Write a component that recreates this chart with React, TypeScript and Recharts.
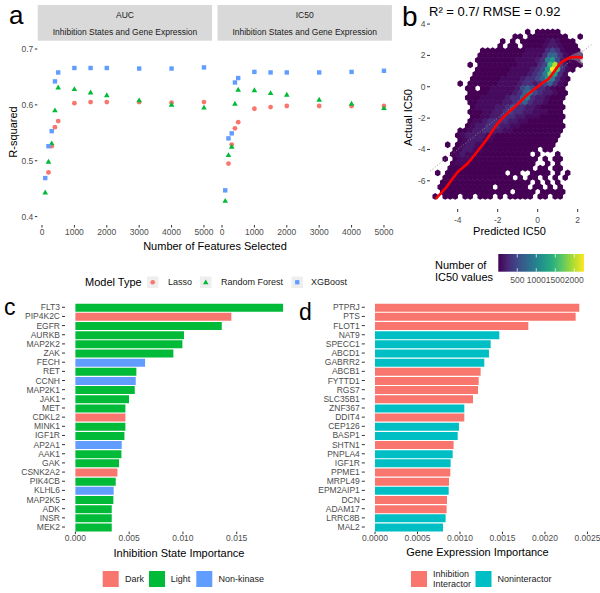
import React from "react";
import {
  ScatterChart,
  Scatter,
  XAxis,
  YAxis,
  BarChart,
  Bar,
  Cell,
  ComposedChart,
  Line,
  Area,
  ReferenceLine,
} from "recharts";

const FONT = "'Liberation Sans', Arial, sans-serif";
const TICK_GREY = "#4d4d4d";
const TICK_LINE = "#333333";

// ---- panel a: R-squared vs number of features ----
const FEATURES = [100, 200, 300, 400, 500, 1000, 1500, 2000, 3000, 4000, 5000];
const AUC_LASSO = [null, 0.479, 0.526, 0.56, 0.571, 0.603, 0.605, 0.605, 0.605, 0.604, 0.605];
const AUC_RF = [0.443, 0.498, 0.531, 0.59, 0.631, 0.628, 0.622, 0.617, 0.608, 0.6, 0.595];
const AUC_XGB = [0.469, 0.526, 0.553, 0.642, 0.658, 0.666, 0.666, 0.666, 0.665, 0.665, 0.667];
const IC50_LASSO = [null, 0.495, 0.529, 0.558, 0.569, 0.593, 0.596, 0.598, 0.598, 0.598, 0.598];
const IC50_RF = [0.428, 0.51, 0.525, 0.602, 0.627, 0.626, 0.621, 0.618, 0.609, 0.602, 0.594];
const IC50_XGB = [0.447, 0.54, 0.549, 0.64, 0.648, 0.659, 0.658, 0.658, 0.658, 0.659, 0.661];
const A_X_TICKS = [0, 1000, 2000, 3000, 4000, 5000];
const A_Y_TICKS = [0.4, 0.5, 0.6, 0.7];
const MODEL_COLORS = { Lasso: "#F8766D", "Random Forest": "#00BA38", XGBoost: "#619CFF" };

// ---- panel b: hexbin of predicted vs actual IC50 ----
// each char is one hex cell: "." empty, 0..9/a/b = count level (dark -> bright)
const HEX_ROWS = [
  "...................0.00000.....",
  "................00.00000000..0.",
  "..............0.0.00000121000..",
  ".............0.00.00001221000..",
  "..........00000000011113431000.",
  ".........000000000111135531000.",
  ".........000000001111236742000.",
  ".......0.000000001111348a42000.",
  ".........000000011112347b8310..",
  "........0000000111123469731....",
  "........00000011112334576310...",
  ".....0.00000011112332345310....",
  ".......00.00111112454332100....",
  ".......00001111123564322100....",
  ".......00011111233563221000....",
  ".......0011111223453221000.....",
  "........0111122343322100000....",
  ".......0001122343322111000.....",
  "........0011223332211100000....",
  ".......0112333322110000000.....",
  ".......01223332211000000000....",
  ".....001223322110000000000.....",
  ".....012222110000000000000.....",
  ".....01222110000000000000......",
  "...0.01221100000000000000......",
  "....01221100000000000.00.......",
  "....0121100000000000.0...0.....",
  "..0.01110000000000000.0.00.....",
  "....01100000000000000..0.0.....",
  "...00000000000000000.00.00.....",
  ".0.000000000000.00..0000.0.0...",
  "..00000000000000.0.00.0.0.0....",
  "..000000000000000000.0.0.0.....",
  ".00000000000.000000.00.0.0.....",
  "..00000000000000.0000.00000....",
  "0.000.00.000.0.00000.00.00.....",
];
const HEX_X_LEFT = -5.25;
const HEX_Y_TOP = 3.5;
const HEX_DX = 0.25;
const HEX_DY = 0.3;
const HEX_LEVEL_COLORS: Record<string, string> = {
  "0": "#440154",
  "1": "#460b5e",
  "2": "#471a6c",
  "3": "#472d7b",
  "4": "#3f4788",
  "5": "#33638d",
  "6": "#287d8e",
  "7": "#1f988b",
  "8": "#35b779",
  "9": "#6ece58",
  a: "#b5de2b",
  b: "#fde725",
};
const SMOOTH_X = [-5.1, -4.55, -4.0, -3.5, -3.0, -2.5, -2.0, -1.5, -1.0, -0.5, 0.0, 0.3, 0.55, 0.85, 1.1, 1.4, 1.7, 2.0, 2.25];
const SMOOTH_Y = [-7.15, -6.38, -5.44, -4.88, -4.1, -3.27, -2.34, -1.68, -1.11, -0.5, 0.0, 0.3, 0.52, 1.02, 1.45, 1.73, 1.88, 1.9, 1.83];
const SMOOTH_LO = [null, null, null, null, null, null, null, null, null, null, null, null, null, null, null, 1.68, 1.74, 1.6, 1.35];
const SMOOTH_HI = [null, null, null, null, null, null, null, null, null, null, null, null, null, null, null, 1.78, 2.02, 2.2, 2.35];
const B_X_TICKS = [-4, -2, 0, 2];
const B_Y_TICKS = [-6, -4, -2, 0, 2, 4];
const COLORBAR_TICKS = [500, 1000, 1500, 2000];
const COLORBAR_RANGE = [1, 2255];
const VIRIDIS = ["#440154", "#472d7b", "#3b528b", "#2c728e", "#21918c", "#28ae80", "#5ec962", "#addc30", "#fde725"];

// ---- panel c: inhibition state importance ----
const C_GENES = ["FLT3", "PIP4K2C", "EGFR", "AURKB", "MAP2K2", "ZAK", "FECH", "RET", "CCNH", "MAP2K1", "JAK1", "MET", "CDKL2", "MINK1", "IGF1R", "AP2A1", "AAK1", "GAK", "CSNK2A2", "PIK4CB", "KLHL6", "MAP2K5", "ADK", "INSR", "MEK2"];
const C_VALUES = [0.01931, 0.0145, 0.01361, 0.0101, 0.00995, 0.00911, 0.00648, 0.00567, 0.00561, 0.00552, 0.00499, 0.00465, 0.00465, 0.00465, 0.00456, 0.00431, 0.00428, 0.00406, 0.00391, 0.00375, 0.00356, 0.00353, 0.00338, 0.00338, 0.00338];
const C_CLASS = ["Light", "Dark", "Light", "Light", "Light", "Light", "Non-kinase", "Light", "Non-kinase", "Light", "Light", "Light", "Dark", "Light", "Light", "Non-kinase", "Light", "Light", "Dark", "Light", "Non-kinase", "Light", "Light", "Light", "Light"];
const C_COLORS: Record<string, string> = { Dark: "#F8766D", Light: "#00BA38", "Non-kinase": "#619CFF" };
const C_TICKS = [0, 0.005, 0.01, 0.015];

// ---- panel d: gene expression importance ----
const D_GENES = ["PTPRJ", "PTS", "FLOT1", "NAT9", "SPECC1", "ABCD1", "GABRR2", "ABCB1", "FYTTD1", "RGS7", "SLC35B1", "ZNF367", "DDIT4", "CEP126", "BASP1", "SHTN1", "PNPLA4", "IGF1R", "PPME1", "MRPL49", "EPM2AIP1", "DCN", "ADAM17", "LRRC8B", "MAL2"];
const D_VALUES = [0.002404, 0.002361, 0.001804, 0.001463, 0.001361, 0.001341, 0.001286, 0.001243, 0.00122, 0.001212, 0.001153, 0.001051, 0.001051, 0.000988, 0.000973, 0.000925, 0.000914, 0.00089, 0.000886, 0.000871, 0.000867, 0.000847, 0.000843, 0.000831, 0.0008];
const D_CLASS = ["Inhibition Interactor", "Inhibition Interactor", "Inhibition Interactor", "Noninteractor", "Noninteractor", "Noninteractor", "Noninteractor", "Inhibition Interactor", "Inhibition Interactor", "Inhibition Interactor", "Inhibition Interactor", "Noninteractor", "Inhibition Interactor", "Noninteractor", "Noninteractor", "Inhibition Interactor", "Noninteractor", "Noninteractor", "Inhibition Interactor", "Inhibition Interactor", "Noninteractor", "Inhibition Interactor", "Inhibition Interactor", "Noninteractor", "Noninteractor"];
const D_COLORS: Record<string, string> = { "Inhibition Interactor": "#F8766D", Noninteractor: "#00BFC4" };
const D_TICKS = [0, 0.0005, 0.001, 0.0015, 0.002, 0.0025];

// ---- layout ----
const A_X_DOMAIN = [-145, 5245];
const A_Y_DOMAIN = [0.385, 0.7125];
const B_X_DOMAIN = [-5.385, 2.715];
const B_Y_DOMAIN = [-7.8, 4.26];
const B_PLOT_W = 162;
const B_PLOT_H = 189;
const B_MARGIN = { top: 20, right: 8, bottom: 6, left: 30 };
const C_DOMAIN = [-0.000966, 0.02027];
const D_DOMAIN = [-0.00012, 0.002524];

const tickStyle = { fontSize: 8.5, fill: TICK_GREY, fontFamily: FONT };

const circleShape = (fill: string) => (p: any) =>
  p.cx == null ? null : <circle cx={p.cx} cy={p.cy} r={2.4} fill={fill} />;
const triangleShape = (fill: string) => (p: any) =>
  p.cx == null ? null : (
    <polygon points={`${p.cx},${p.cy - 3} ${p.cx + 2.8},${p.cy + 1.9} ${p.cx - 2.8},${p.cy + 1.9}`} fill={fill} />
  );
const squareShape = (fill: string) => (p: any) =>
  p.cx == null ? null : <rect x={p.cx - 2.2} y={p.cy - 2.2} width={4.4} height={4.4} fill={fill} />;

function FacetScatter({ left, width, marginLeft, marginRight, showY, lasso, rf, xgb }: any) {
  const mk = (vals: (number | null)[]) =>
    FEATURES.map((f, i) => ({ x: f, y: vals[i] })).filter((d) => d.y != null);
  return (
    <div style={{ position: "absolute", left, top: 0 }}>
      <ScatterChart width={width} height={245} margin={{ top: 42, right: marginRight, bottom: 8, left: marginLeft }}>
        <XAxis
          type="number"
          dataKey="x"
          domain={A_X_DOMAIN}
          ticks={A_X_TICKS}
          allowDataOverflow
          interval={0}
          height={12}
          axisLine={false}
          tickLine={{ stroke: TICK_LINE }}
          tickSize={2.5}
          tickMargin={1.5}
          tick={tickStyle}
        />
        <YAxis
          type="number"
          dataKey="y"
          domain={A_Y_DOMAIN}
          ticks={A_Y_TICKS}
          allowDataOverflow
          hide={!showY}
          width={27}
          axisLine={false}
          tickLine={{ stroke: TICK_LINE }}
          tickSize={2.5}
          tickMargin={1.5}
          tick={tickStyle}
          tickFormatter={(v: number) => v.toFixed(1)}
        />
        <Scatter data={mk(lasso)} shape={circleShape(MODEL_COLORS.Lasso)} isAnimationActive={false} />
        <Scatter data={mk(rf)} shape={triangleShape(MODEL_COLORS["Random Forest"])} isAnimationActive={false} />
        <Scatter data={mk(xgb)} shape={squareShape(MODEL_COLORS.XGBoost)} isAnimationActive={false} />
      </ScatterChart>
    </div>
  );
}

const B_PX_PER_X = B_PLOT_W / (B_X_DOMAIN[1] - B_X_DOMAIN[0]);
const B_PX_PER_Y = B_PLOT_H / (B_Y_DOMAIN[1] - B_Y_DOMAIN[0]);
const HEX_HALF_W = (HEX_DX / 2) * B_PX_PER_X + 0.25;
const HEX_R = (HEX_DY / 1.5) * B_PX_PER_Y + 0.25;

function HexShape(props: any) {
  const { cx, cy, payload } = props;
  if (cx == null || cy == null) return null;
  const w = HEX_HALF_W;
  const r = HEX_R;
  const pts = [
    [0, -r],
    [w, -r / 2],
    [w, r / 2],
    [0, r],
    [-w, r / 2],
    [-w, -r / 2],
  ]
    .map(([dx, dy]) => `${cx + dx},${cy + dy}`)
    .join(" ");
  return <polygon points={pts} fill={HEX_LEVEL_COLORS[payload.level]} />;
}

function HexPanel() {
  const cells: { x: number; y: number; level: string }[] = [];
  HEX_ROWS.forEach((row, i) => {
    row.split("").forEach((ch, c) => {
      if (ch === ".") return;
      cells.push({
        x: HEX_X_LEFT + c * HEX_DX + (i % 2 ? HEX_DX / 2 : 0),
        y: HEX_Y_TOP - i * HEX_DY,
        level: ch,
      });
    });
  });
  const smooth = SMOOTH_X.map((x, i) => ({
    x,
    y: SMOOTH_Y[i],
    band: SMOOTH_LO[i] == null ? null : [SMOOTH_LO[i], SMOOTH_HI[i]],
  }));
  return (
    <>
      <div style={{ position: "absolute", left: 380, top: 0 }}>
        <ScatterChart width={220} height={230} margin={B_MARGIN}>
          <XAxis
            type="number"
            dataKey="x"
            domain={B_X_DOMAIN}
            ticks={B_X_TICKS}
            allowDataOverflow
            interval={0}
            height={15}
            axisLine={false}
            tickLine={{ stroke: TICK_LINE }}
            tickSize={3}
            tickMargin={5}
            tick={tickStyle}
          />
          <YAxis
            type="number"
            dataKey="y"
            domain={B_Y_DOMAIN}
            ticks={B_Y_TICKS}
            allowDataOverflow
            interval={0}
            width={20}
            axisLine={false}
            tickLine={{ stroke: TICK_LINE }}
            tickSize={3}
            tickMargin={1.5}
            tick={tickStyle}
          />
          <Scatter data={cells} shape={<HexShape />} isAnimationActive={false} />
        </ScatterChart>
      </div>
      {/* smooth fit and identity line drawn on top of the hexes */}
      <div style={{ position: "absolute", left: 380, top: 0 }}>
        <ComposedChart
          width={220}
          height={230}
          data={smooth}
          margin={{ top: B_MARGIN.top, right: B_MARGIN.right, bottom: B_MARGIN.bottom + 15, left: B_MARGIN.left + 20 }}
        >
          <XAxis hide type="number" dataKey="x" domain={B_X_DOMAIN} allowDataOverflow />
          <YAxis hide type="number" dataKey="y" domain={B_Y_DOMAIN} allowDataOverflow />
          <ReferenceLine
            segment={[
              { x: -5.38, y: -5.38 },
              { x: 2.71, y: 2.71 },
            ]}
            stroke="#8c8c8c"
            strokeDasharray="1 2"
            strokeWidth={0.9}
          />
          <Area dataKey="band" stroke="none" fill="#a0a0a0" fillOpacity={0.5} isAnimationActive={false} type="monotone" />
          <Line dataKey="y" stroke="#ff0000" strokeWidth={2.6} dot={false} type="monotone" isAnimationActive={false} />
        </ComposedChart>
      </div>
    </>
  );
}

function ImportanceBars({ left, genes, values, classes, colors, domain, ticks, fmt, marginLeft, marginRight }: any) {
  const data = genes.map((g: string, i: number) => ({ name: g, value: values[i], cls: classes[i] }));
  return (
    <div style={{ position: "absolute", left, top: 290 }}>
      <BarChart
        layout="vertical"
        width={300}
        height={260}
        data={data}
        margin={{ top: 12.7, right: marginRight, bottom: 3.4, left: marginLeft }}
      >
        <XAxis
          type="number"
          dataKey="value"
          domain={domain}
          ticks={ticks}
          allowDataOverflow
          interval={0}
          height={15}
          axisLine={false}
          tickLine={{ stroke: TICK_LINE }}
          tickSize={2.5}
          tickMargin={1}
          tick={tickStyle}
          tickFormatter={fmt}
        />
        <YAxis
          type="category"
          dataKey="name"
          width={60}
          interval={0}
          axisLine={false}
          tickLine={{ stroke: TICK_LINE }}
          tickSize={3}
          tickMargin={2}
          tick={tickStyle}
        />
        <Bar dataKey="value" barSize={8} isAnimationActive={false}>
          {data.map((d: any, i: number) => (
            <Cell key={i} fill={colors[d.cls]} />
          ))}
        </Bar>
      </BarChart>
    </div>
  );
}

function Overlay() {
  const cbX0 = 498.3;
  const cbX1 = 584;
  const cbPos = (v: number) =>
    cbX0 + ((v - COLORBAR_RANGE[0]) / (COLORBAR_RANGE[1] - COLORBAR_RANGE[0])) * (cbX1 - cbX0);
  const t = { fontFamily: FONT } as const;
  return (
    <svg width={600} height={593} style={{ position: "absolute", left: 0, top: 0, pointerEvents: "none" }}>
      <defs>
        <linearGradient id="viridis" x1="0" x2="1" y1="0" y2="0">
          {VIRIDIS.map((c, i) => (
            <stop key={i} offset={`${(i / (VIRIDIS.length - 1)) * 100}%`} stopColor={c} />
          ))}
        </linearGradient>
      </defs>

      {/* panel letters */}
      <text x={9} y={23.8} fontSize={26} fill="#000" {...t}>a</text>
      <text x={402} y={26} fontSize={28} fill="#000" {...t}>b</text>
      <text x={4} y={315} fontSize={23} fill="#000" {...t}>c</text>
      <text x={299} y={320} fontSize={23} fill="#000" {...t}>d</text>

      {/* facet strips */}
      <rect x={37.7} y={5} width={174.4} height={35.7} fill="#d9d9d9" />
      <rect x={217.5} y={5} width={174.4} height={35.7} fill="#d9d9d9" />
      <text x={125} y={18} fontSize={8.5} textAnchor="middle" fill="#1a1a1a" {...t}>AUC</text>
      <text x={125} y={35} fontSize={8.5} textAnchor="middle" fill="#1a1a1a" {...t}>Inhibition States and Gene Expression</text>
      <text x={304.7} y={18} fontSize={8.5} textAnchor="middle" fill="#1a1a1a" {...t}>IC50</text>
      <text x={304.7} y={35} fontSize={8.5} textAnchor="middle" fill="#1a1a1a" {...t}>Inhibition States and Gene Expression</text>

      {/* panel a titles */}
      <text transform="translate(16.7,132) rotate(-90)" fontSize={11} textAnchor="middle" fill="#000" {...t}>R-squared</text>
      <text x={215} y={250} fontSize={11} textAnchor="middle" fill="#000" {...t}>Number of Features Selected</text>

      {/* panel a legend */}
      <text x={85} y={286} fontSize={11} fill="#000" {...t}>Model Type</text>
      <rect x={147} y={276.5} width={11.5} height={11.5} fill="#eeeeee" />
      <circle cx={152.75} cy={282.25} r={2.3} fill={MODEL_COLORS.Lasso} />
      <text x={168} y={285.3} fontSize={9} fill="#1a1a1a" {...t}>Lasso</text>
      <rect x={200} y={276.5} width={11.5} height={11.5} fill="#eeeeee" />
      <polygon points="205.75,279.4 208.5,284.2 203,284.2" fill={MODEL_COLORS["Random Forest"]} />
      <text x={221} y={285.3} fontSize={9} fill="#1a1a1a" {...t}>Random Forest</text>
      <rect x={291.5} y={276.5} width={11.5} height={11.5} fill="#eeeeee" />
      <rect x={295.1} y={280.1} width={4.3} height={4.3} fill={MODEL_COLORS.XGBoost} />
      <text x={311} y={285.3} fontSize={9} fill="#1a1a1a" {...t}>XGBoost</text>

      {/* panel b titles */}
      <text x={429} y={16.3} fontSize={13} fill="#000" {...t}>R² = 0.7/ RMSE = 0.92</text>
      <text transform="translate(412,117.5) rotate(-90)" fontSize={11} textAnchor="middle" fill="#000" {...t}>Actual IC50</text>
      <text x={509.5} y={234.7} fontSize={11} textAnchor="middle" fill="#000" {...t}>Predicted IC50</text>

      {/* colorbar legend */}
      <text x={435} y={269} fontSize={11} fill="#000" {...t}>Number of</text>
      <text x={435} y={280.7} fontSize={11} fill="#000" {...t}>IC50 values</text>
      <rect x={cbX0} y={254} width={cbX1 - cbX0} height={17.7} fill="url(#viridis)" />
      {COLORBAR_TICKS.map((v) => (
        <g key={v}>
          <line x1={cbPos(v)} x2={cbPos(v)} y1={254} y2={257.5} stroke="#ffffff" strokeWidth={0.7} />
          <line x1={cbPos(v)} x2={cbPos(v)} y1={268.2} y2={271.7} stroke="#ffffff" strokeWidth={0.7} />
          <text x={cbPos(v)} y={283} fontSize={8.5} textAnchor="middle" fill={TICK_GREY} {...t}>{v}</text>
        </g>
      ))}

      {/* panel c titles & legend */}
      <text x={179} y={557.3} fontSize={11} textAnchor="middle" fill="#000" {...t}>Inhibition State Importance</text>
      <rect x={102.7} y={571} width={16} height={16} fill={C_COLORS.Dark} />
      <text x={125} y={582} fontSize={9} fill="#1a1a1a" {...t}>Dark</text>
      <rect x={149} y={571} width={16} height={16} fill={C_COLORS.Light} />
      <text x={170.7} y={582} fontSize={9} fill="#1a1a1a" {...t}>Light</text>
      <rect x={196.3} y={571} width={16} height={16} fill={C_COLORS["Non-kinase"]} />
      <text x={218.6} y={582} fontSize={9} fill="#1a1a1a" {...t}>Non-kinase</text>

      {/* panel d titles & legend */}
      <text x={477.5} y={556} fontSize={11} textAnchor="middle" fill="#000" {...t}>Gene Expression Importance</text>
      <rect x={411} y={571} width={16} height={16} fill={D_COLORS["Inhibition Interactor"]} />
      <text x={433} y={577.3} fontSize={9} fill="#1a1a1a" {...t}>Inhibition</text>
      <text x={433} y={587} fontSize={9} fill="#1a1a1a" {...t}>Interactor</text>
      <rect x={475.5} y={571} width={16} height={16} fill={D_COLORS.Noninteractor} />
      <text x={497.5} y={582} fontSize={9} fill="#1a1a1a" {...t}>Noninteractor</text>
    </svg>
  );
}

export default function App() {
  return (
    <div
      style={{
        position: "absolute",
        left: 0,
        top: 0,
        width: 600,
        height: 593,
        overflow: "hidden",
        background: "#ffffff",
        fontFamily: FONT,
      }}
    >
      <FacetScatter left={0} width={215} marginLeft={10.3} marginRight={3.1} showY lasso={AUC_LASSO} rf={AUC_RF} xgb={AUC_XGB} />
      <FacetScatter left={215} width={185} marginLeft={2.3} marginRight={8.1} showY={false} lasso={IC50_LASSO} rf={IC50_RF} xgb={IC50_XGB} />
      <HexPanel />
      <ImportanceBars
        left={0}
        genes={C_GENES}
        values={C_VALUES}
        classes={C_CLASS}
        colors={C_COLORS}
        domain={C_DOMAIN}
        ticks={C_TICKS}
        fmt={(v: number) => v.toFixed(3)}
        marginLeft={5}
        marginRight={6.6}
      />
      <ImportanceBars
        left={300}
        genes={D_GENES}
        values={D_VALUES}
        classes={D_CLASS}
        colors={D_COLORS}
        domain={D_DOMAIN}
        ticks={D_TICKS}
        fmt={(v: number) => v.toFixed(4)}
        marginLeft={4.8}
        marginRight={10.5}
      />
      <Overlay />
    </div>
  );
}
